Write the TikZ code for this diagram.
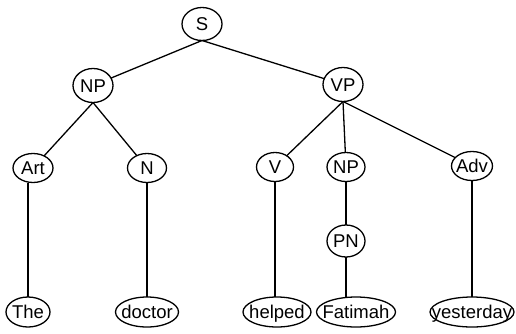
\documentclass[tikz,border=0pt]{standalone}
\usepackage{fontspec}
\setmainfont{Liberation Sans}
\usetikzlibrary{shapes.geometric}

% label centred on the node, with no size of its own
\newcommand{\lbl}[1]{\makebox[0pt]{\raisebox{-.36em}[0pt][0pt]{#1}}}

\tikzset{
  cat/.style={ellipse, draw, line width=1.3pt, inner sep=0pt, outer sep=0pt,
    font=\fontsize{18.5}{20}\selectfont},
  branch/.style={line width=1.3pt},
}

\begin{document}
\begin{tikzpicture}[x=1pt, y=-1pt]
  \useasboundingbox (0,0) rectangle (516,333);

  % phrase level
  \node[cat, minimum width=40pt, minimum height=33pt] (s)   at (202,24)   {\lbl{S}};
  \node[cat, minimum width=40pt, minimum height=34pt] (np)  at (93,85.5)  {\lbl{NP}};
  \node[cat, minimum width=40pt, minimum height=34pt] (vp)  at (343,84.5) {\lbl{VP}};

  % word categories
  \node[cat, minimum width=40pt, minimum height=29pt] (art) at (33,168)   {\lbl{Art}};
  \node[cat, minimum width=39pt, minimum height=29pt] (n)   at (147,168)  {\lbl{N}};
  \node[cat, minimum width=37pt, minimum height=29pt] (v)   at (275,167)  {\lbl{V}};
  \node[cat, minimum width=38pt, minimum height=29pt] (np2) at (346,167)  {\lbl{NP}};
  \node[cat, minimum width=41pt, minimum height=29pt] (adv) at (472,166)  {\lbl{Adv}};
  \node[cat, minimum width=38pt, minimum height=32pt] (pn)  at (346,241)  {\lbl{PN}};

  % words
  \node[cat, minimum width=44pt, minimum height=30pt] (the)       at (28,312)  {\lbl{The}};
  \node[cat, minimum width=63pt, minimum height=30pt] (doctor)    at (147,312) {\lbl{doctor}};
  \node[cat, minimum width=68pt, minimum height=30pt] (helped)    at (277,312) {\lbl{helped}};
  \node[cat, minimum width=79pt, minimum height=30pt] (fatimah)   at (356,312) {\lbl{Fatimah}};
  \node[cat, minimum width=84pt, minimum height=30pt] (yesterday) at (472,312) {\lbl{yesterday}};

  % branches
  \draw[branch] (s.south) -- (np);
  \draw[branch] (s.south) -- (vp);
  \draw[branch] (np.south) -- (art);
  \draw[branch] (np.south) -- (n);
  \draw[branch] (vp.south) -- (v);
  \draw[branch] (vp.south) -- (np2);
  \draw[branch] (vp.south) -- (adv);
  \draw[branch] (np2) -- (pn);
  \draw[branch] (the.north |- art.south) -- (the.north);
  \draw[branch] (n) -- (doctor);
  \draw[branch] (v.south) -- (v.south |- helped.north);
  \draw[branch] (pn.south) -- (pn.south |- fatimah.north);
  \draw[branch] (adv) -- (yesterday);
\end{tikzpicture}
\end{document}
